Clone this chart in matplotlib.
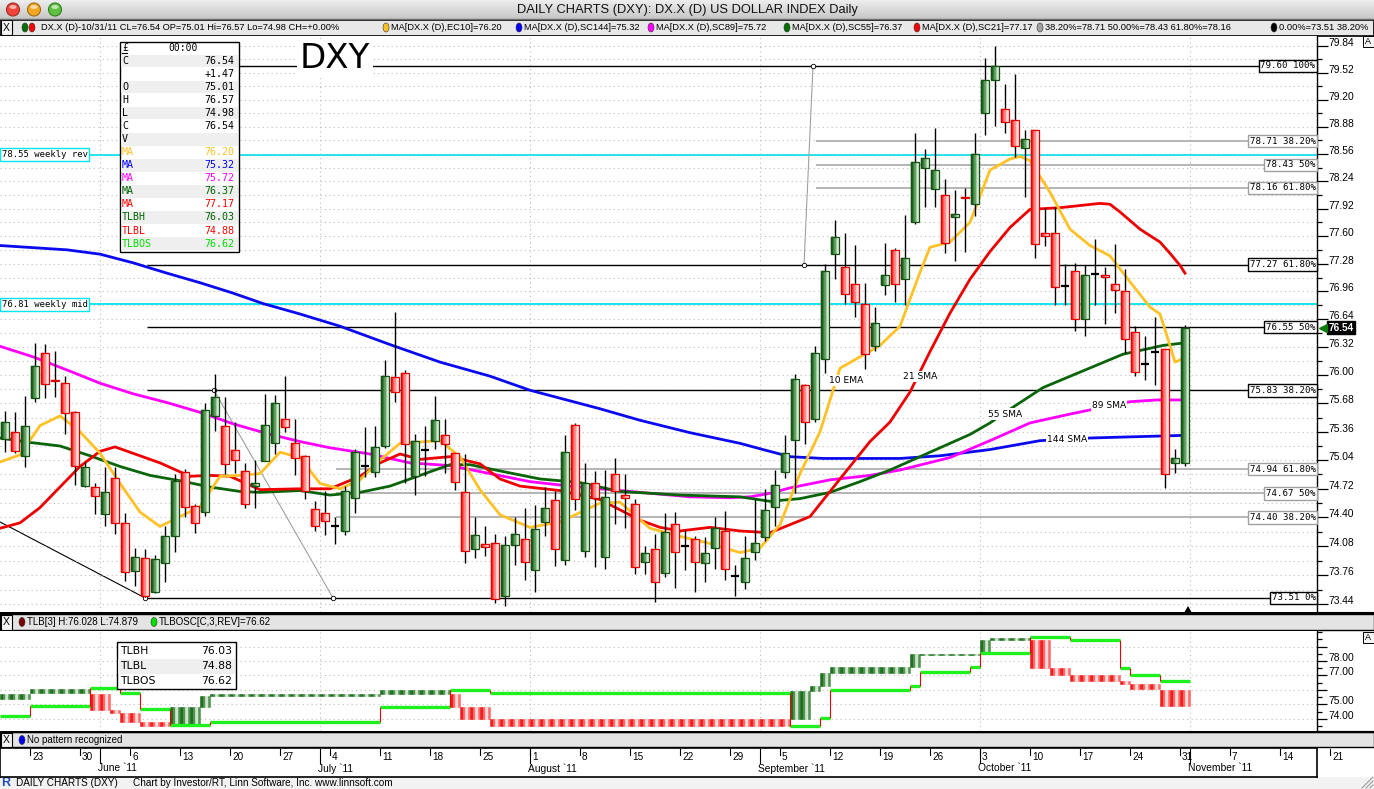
import numpy as np
import pandas as pd
import matplotlib
matplotlib.use("Agg")
import matplotlib.pyplot as plt
from matplotlib.patches import Rectangle, Ellipse, Polygon
from matplotlib.transforms import blended_transform_factory
import matplotlib.ticker as mticker

# ---------------------------------------------------------------- data
start_date = "2011-05-18"
opens = [75.28, 75.36, 75.09, 75.74, 76.25, 75.95, 75.91, 75.58, 74.75, 74.74,
         74.44, 74.84, 74.34, 73.81, 73.95, 73.58, 73.89, 74.19, 74.91, 74.53,
         74.46, 75.54, 75.43, 75.16, 74.92, 74.75, 75.03, 75.23, 75.50, 75.23,
         75.09, 74.49, 74.45, 74.30, 74.25, 74.62, 74.98, 74.91, 75.20, 75.98,
         76.03, 74.86, 75.15, 75.26, 75.32, 75.12, 74.68, 74.05, 74.10, 74.12,
         73.53, 74.09, 74.16, 73.82, 74.35, 74.59, 73.93, 75.44, 74.03, 74.78,
         73.96, 74.88, 74.65, 74.55, 73.91, 74.05, 73.78, 74.33, 74.08, 74.16,
         73.90, 74.06, 74.25, 73.75, 73.68, 74.02, 74.18, 74.52, 74.91, 75.27,
         75.89, 75.50, 76.18, 77.39, 77.24, 77.05, 76.82, 76.33, 77.03, 77.44,
         77.10, 77.76, 78.39, 78.15, 78.08, 77.82, 78.06, 77.97, 79.04, 79.43,
         79.09, 78.96, 78.63, 78.84, 77.63, 77.63, 77.02, 77.19, 76.64, 77.16,
         77.15, 77.04, 76.97, 76.49, 76.13, 76.27, 76.30, 75.01, 75.01]
highs = [75.59, 75.58, 75.76, 76.37, 76.36, 76.28, 75.99, 75.59, 75.02, 74.79,
         74.96, 74.96, 74.45, 74.06, 74.05, 73.98, 74.30, 74.88, 74.94, 74.55,
         75.68, 76.02, 75.75, 75.47, 75.01, 75.04, 75.79, 75.78, 75.99, 75.51,
         75.10, 74.58, 74.69, 74.40, 74.75, 75.17, 75.41, 75.43, 76.17, 76.72,
         76.06, 75.34, 75.43, 75.76, 75.50, 75.12, 75.11, 74.40, 74.31, 74.22,
         74.19, 74.41, 74.51, 74.54, 74.74, 74.70, 75.32, 75.46, 75.01, 74.92,
         74.93, 75.06, 74.89, 74.61, 74.08, 74.22, 74.45, 74.46, 74.26, 74.19,
         74.18, 74.41, 74.47, 73.87, 74.19, 74.61, 74.72, 74.93, 75.32, 76.02,
         75.90, 76.33, 77.28, 77.79, 77.64, 77.50, 77.06, 76.78, 77.52, 77.46,
         77.85, 78.80, 78.62, 78.86, 78.26, 78.14, 78.16, 78.81, 79.70, 79.84,
         79.39, 79.50, 78.84, 78.84, 77.93, 77.94, 77.28, 77.29, 77.26, 77.56,
         77.24, 77.51, 77.22, 76.56, 76.45, 76.67, 76.30, 75.17, 76.57]
lows = [75.13, 75.12, 74.96, 75.70, 75.74, 75.75, 75.34, 74.76, 74.74, 74.44,
        74.31, 74.22, 73.70, 73.64, 73.52, 73.56, 73.69, 74.02, 74.40, 74.23,
        74.42, 75.37, 74.89, 74.90, 74.51, 74.50, 75.03, 75.11, 75.36, 74.87,
        74.61, 74.25, 74.20, 74.11, 74.21, 74.45, 74.85, 74.85, 75.18, 75.70,
        74.78, 74.65, 74.86, 75.17, 74.90, 74.71, 73.89, 73.95, 73.97, 73.45,
        73.42, 73.87, 73.71, 73.58, 74.19, 73.86, 73.87, 74.48, 73.96, 73.85,
        73.83, 74.33, 74.28, 73.77, 73.77, 73.47, 73.74, 73.62, 73.82, 73.58,
        73.68, 73.83, 73.71, 73.53, 73.61, 73.93, 74.14, 74.30, 74.84, 74.67,
        75.22, 75.47, 76.03, 77.10, 76.81, 76.67, 76.07, 76.28, 76.92, 76.84,
        76.80, 77.74, 77.94, 77.94, 77.40, 77.31, 77.42, 77.83, 78.78, 78.89,
        78.80, 78.52, 78.06, 77.34, 77.48, 76.80, 76.80, 76.51, 76.45, 76.80,
        76.58, 76.71, 76.25, 75.99, 75.95, 75.89, 74.73, 74.90, 74.98]
closes = [75.47, 75.14, 75.43, 76.11, 75.90, 75.94, 75.57, 74.97, 74.96, 74.64,
          74.68, 74.34, 73.80, 73.96, 73.53, 73.94, 74.19, 74.81, 74.52, 74.34,
          75.61, 75.75, 75.00, 75.04, 74.55, 74.78, 75.44, 75.68, 75.41, 75.07,
          74.70, 74.31, 74.36, 74.30, 74.69, 75.13, 74.98, 75.19, 75.99, 75.81,
          75.22, 75.26, 75.15, 75.49, 75.22, 74.80, 74.03, 74.20, 74.07, 73.50,
          74.09, 74.22, 73.91, 74.27, 74.51, 74.05, 75.13, 74.61, 74.79, 74.62,
          74.63, 74.69, 74.62, 73.85, 74.01, 73.69, 74.24, 74.02, 74.08, 73.91,
          74.01, 74.28, 73.83, 73.75, 73.95, 74.12, 74.48, 74.76, 75.12, 75.96,
          75.47, 76.25, 77.19, 77.59, 76.93, 76.84, 76.24, 76.60, 77.15, 77.04,
          77.35, 78.47, 78.51, 78.37, 77.52, 77.86, 78.04, 78.56, 79.43, 79.60,
          78.93, 78.65, 78.74, 77.51, 77.60, 77.01, 77.02, 76.64, 77.15, 77.16,
          77.13, 76.98, 76.41, 76.04, 76.13, 76.27, 74.89, 75.07, 76.54]

ema10_x = [-0.5, 1.5, 3.5, 5.5, 7.5, 9.5, 11.5, 13.5, 15.5, 17.5, 19.5, 21.5, 23.5, 25.5,
           27.5, 29.5, 31.5, 33.5, 35.5, 37.5, 39.5, 43.5, 45.5, 47.5, 49.5, 52.5, 55.5,
           59.5, 61.5, 64.5, 67.5, 70.5, 73.5, 75.5, 77.5, 79.5, 81.5, 83.5, 85.5, 87.5,
           89.5, 91.5, 92.5, 94.5, 96.5, 98.5, 100.5, 101.5, 102.5, 104.5, 106.5, 108.5,
           110.5, 112.5, 114.5, 115.5, 116.5, 117, 118]
ema10_v = [75.02, 75.10, 75.43, 75.54, 75.36, 75.12, 74.78, 74.46, 74.30, 74.41, 74.52,
           74.86, 74.87, 74.89, 75.13, 75.07, 74.78, 74.72, 74.82, 75.04, 75.23, 75.26,
           75.08, 74.71, 74.43, 74.29, 74.35, 74.56, 74.57, 74.28, 74.19, 74.11, 74.01,
           74.06, 74.32, 74.89, 75.36, 76.08, 76.21, 76.34, 76.56, 77.18, 77.47, 77.53,
           77.76, 78.37, 78.50, 78.53, 78.48, 78.11, 77.68, 77.49, 77.37, 77.07, 76.78,
           76.70, 76.34, 76.15, 76.20]
sma21_x = [-0.5, 1.5, 3.5, 5.5, 7.5, 9.5, 11, 12.5, 15.5, 18.5, 20.5, 22.5, 25.5, 29.5,
           32.5, 35.5, 37.5, 39.5, 41.5, 44.5, 47.5, 49.5, 51.5, 55.5, 59.5, 63.5, 65.5,
           67.5, 70.5, 73.5, 76.5, 78.5, 80.5, 82.5, 84.5, 86.5, 88.5, 90.5, 92.5, 94.5,
           96.5, 98.5, 100.5, 102.5, 105.5, 109.5, 110.5, 111.5, 113.5, 115.5, 116.5,
           117.5, 118]
sma21_v = [74.28, 74.34, 74.51, 74.74, 74.97, 75.14, 75.19, 75.13, 75.01, 74.86, 74.87,
           74.86, 74.71, 74.72, 74.72, 74.86, 75.01, 75.11, 75.05, 75.08, 75.00, 74.83,
           74.75, 74.70, 74.60, 74.37, 74.29, 74.25, 74.29, 74.25, 74.23, 74.32, 74.41,
           74.69, 74.97, 75.25, 75.47, 75.81, 76.27, 76.71, 77.10, 77.42, 77.70, 77.91,
           77.93, 77.98, 77.97, 77.88, 77.68, 77.53, 77.40, 77.26, 77.17]
sma55_x = [-0.5, 2.5, 5.5, 8.5, 11.5, 14.5, 17.5, 20.5, 23.5, 25.5, 29.5, 32.5, 35.5,
           38.5, 41.5, 44.5, 46.5, 49.5, 53.5, 57.5, 61.5, 67.5, 73.5, 76.5, 79.5, 82.5,
           85.5, 88.5, 92.5, 96.5, 98.5, 100.7, 103.8, 107.8, 111.8, 115.8, 118]
sma55_v = [75.29, 75.24, 75.20, 75.09, 74.97, 74.87, 74.81, 74.74, 74.69, 74.68, 74.70,
           74.65, 74.68, 74.75, 74.87, 74.99, 74.99, 74.92, 74.83, 74.79, 74.69, 74.65,
           74.63, 74.58, 74.61, 74.68, 74.80, 74.93, 75.13, 75.33, 75.46, 75.63, 75.86,
           76.05, 76.24, 76.34, 76.37]
sma89_x = [-0.5, 2.8, 6.2, 9.5, 12.8, 16.2, 19.5, 22.8, 26.2, 29.5, 32.5, 36.5, 40.5,
           44.5, 48.5, 52.5, 56.5, 61.5, 68.5, 72.5, 74.5, 76.5, 78.5, 82.5, 86.5, 89.5,
           94.5, 98.5, 102.5, 106.5, 112.5, 115.2, 118]
sma89_v = [76.33, 76.21, 76.06, 75.91, 75.79, 75.69, 75.58, 75.45, 75.34, 75.25, 75.18,
           75.11, 75.01, 74.98, 74.89, 74.80, 74.75, 74.70, 74.63, 74.62, 74.63, 74.67,
           74.73, 74.82, 74.87, 74.93, 75.07, 75.26, 75.46, 75.56, 75.70, 75.72, 75.72]
sma144_x = [-0.5, 6.2, 9.5, 12.8, 16.2, 19.5, 22.8, 25.8, 29.5, 33.5, 38.5, 43.5, 48.5,
            52.5, 59.5, 63.5, 68.5, 73.5, 75.8, 78.5, 81.8, 89.5, 93.5, 98.5, 103.5,
            108.5, 118]
sma144_v = [77.49, 77.44, 77.39, 77.29, 77.17, 77.06, 76.94, 76.82, 76.70, 76.56, 76.35,
            76.15, 75.99, 75.83, 75.62, 75.49, 75.35, 75.23, 75.16, 75.08, 75.06, 75.06,
            75.09, 75.16, 75.26, 75.29, 75.32]

fib_black_levels = [79.60, 77.27, 76.55, 75.83, 73.51]
fib_black_labels = ["79.60 100%", "77.27 61.80%", "76.55 50%", "75.83 38.20%", "73.51 0%"]
fib_upper_levels = [78.71, 78.43, 78.16]
fib_upper_labels = ["78.71 38.20%", "78.43 50%", "78.16 61.80%"]
fib_lower_levels = [74.94, 74.67, 74.40]
fib_lower_labels = ["74.94 61.80%", "74.67 50%", "74.40 38.20%"]
weekly_levels = [78.55, 76.81]
weekly_labels = ["78.55 weekly rev", "76.81 weekly mid"]

ytick_major = [73.44, 73.76, 74.08, 74.40, 74.72, 75.04, 75.36, 75.68, 76.00, 76.32,
               76.64, 76.96, 77.28, 77.60, 77.92, 78.24, 78.56, 78.88, 79.20, 79.52, 79.84]
ytick_minor = [73.60, 73.92, 74.24, 74.56, 74.88, 75.20, 75.52, 75.84, 76.16, 76.48,
               76.80, 77.12, 77.44, 77.76, 78.08, 78.40, 78.72, 79.04, 79.36, 79.68]

# three-line-break bricks: first bar, end bar (exclusive), low, high, up?
tlb_start = [0, 3, 9, 11, 12, 14, 17, 20, 21, 38, 45, 46, 49, 79, 81, 82, 83, 91, 92,
             98, 99, 103, 105, 107, 112, 113, 116]
tlb_end = [3, 9, 11, 12, 14, 17, 20, 21, 38, 45, 46, 49, 79, 81, 82, 83, 91, 92, 98,
           99, 103, 105, 107, 112, 113, 116, 119]
tlb_low = [75.41, 75.79, 74.64, 74.38, 73.80, 73.53, 73.57, 74.81, 75.61, 75.75, 74.80,
           74.03, 73.50, 74.02, 75.96, 76.25, 77.19, 77.59, 78.40, 78.47, 79.43, 77.51,
           77.01, 76.64, 76.41, 76.04, 74.88]
tlb_high = [75.75, 76.09, 75.75, 74.64, 74.38, 73.82, 74.81, 75.61, 75.75, 75.99, 75.75,
            74.80, 74.03, 75.96, 76.25, 77.19, 77.59, 78.47, 78.50, 79.43, 79.60, 79.43,
            77.51, 77.01, 76.64, 76.41, 76.03]
tlb_up = [1, 1, 0, 0, 0, 0, 1, 1, 1, 1, 0, 0, 0, 1, 1, 1, 1, 1, 1, 1, 1, 0, 0, 0, 0, 0, 0]
tlbos_start = [0, 3, 9, 12, 14, 17, 21, 38, 45, 49, 79, 82, 83, 91, 92, 97, 98, 103,
               107, 112, 113, 116]
tlbos_end = [3, 9, 12, 14, 17, 21, 38, 45, 49, 79, 82, 83, 91, 92, 97, 98, 103, 107,
             112, 113, 116, 119]
tlbos_val = [74.22, 74.92, 76.14, 75.79, 74.72, 73.55, 73.82, 74.86, 75.98, 75.79,
             73.52, 74.07, 75.98, 76.28, 77.21, 77.59, 78.52, 79.64, 79.45, 77.55,
             77.03, 76.62]

# ---------------------------------------------------------------- figure
W, H = 1374, 789
PLOT_R = 1317
fig = plt.figure(figsize=(W / 100, H / 100), dpi=100)
fig.patch.set_facecolor("white")
SANS = "Liberation Sans"
MONO = "DejaVu Sans Mono"


def frect(x0, y0, x1, y1):
    return [x0 / W, 1 - y1 / H, (x1 - x0) / W, (y1 - y0) / H]


ax_bg = fig.add_axes([0, 0, 1, 1], zorder=0)
ax_bg.set_xlim(0, W)
ax_bg.set_ylim(H, 0)
ax_bg.axis("off")

ax = fig.add_axes(frect(0, 36, PLOT_R, 612), zorder=2)
ax_t = fig.add_axes(frect(0, 631, PLOT_R, 731), zorder=2)
ax_d = fig.add_axes(frect(0, 748, PLOT_R, 777), zorder=2)
ax_fg = fig.add_axes([0, 0, 1, 1], zorder=6)
ax_fg.set_xlim(0, W)
ax_fg.set_ylim(H, 0)
ax_fg.axis("off")
ax_fg.patch.set_alpha(0)

XLIM = (-0.5, 131.2)


def prect(a, x0, y0, x1, y1, **kw):
    a.add_patch(Rectangle((x0, y0), x1 - x0, y1 - y0, **kw))


# ---------------------------------------------------------------- window chrome
grad = np.linspace([0.93, 0.93, 0.93], [0.78, 0.78, 0.78], 20)[:, None, :]
ax_bg.imshow(grad, extent=[0, W, 19, 0], aspect="auto", zorder=0)
ax_bg.plot([0, W], [19, 19], color="#6d6d6d", lw=1)
for cx, fc, ec in [(13, "#f0453a", "#a02a22"), (34, "#f5a623", "#a06a10"), (55, "#5fbf3f", "#2f7f1f")]:
    ax_bg.add_patch(Ellipse((cx, 9.5), 13, 13, facecolor=fc, edgecolor=ec, lw=0.8, zorder=2))
    ax_bg.add_patch(Ellipse((cx, 7), 7, 4, facecolor="white", alpha=0.6, lw=0, zorder=3))
ax_bg.text(687, 9.5, "DAILY CHARTS (DXY): DX.X (D) US DOLLAR INDEX Daily", ha="center",
           va="center", fontsize=9.3, family=SANS, color="#111111")

# legend header bar
prect(ax_bg, 0, 19.5, W, 35.5, facecolor="#e8e8e8", edgecolor="black", lw=1.2)
prect(ax_bg, 0.5, 20, 12, 35, facecolor="#f4f4f4", edgecolor="black", lw=0.8)
ax_bg.text(6.2, 27.5, "X", ha="center", va="center", fontsize=7.5, family=SANS)


def dot(a, x, y, c, w=6, h=9):
    a.add_patch(Ellipse((x, y), w, h, facecolor=c, edgecolor="#333333", lw=0.4, zorder=3))


hdr_y = 27.5
dot(ax_bg, 25, hdr_y, "#007000")
dot(ax_bg, 32, hdr_y, "#ff0000")
hdr_items = [(41, None, "DX.X (D)-10/31/11 CL=76.54 OP=75.01 Hi=76.57 Lo=74.98 CH=+0.00%"),
             (391, "#ffc125", "MA[DX.X (D),EC10]=76.20"),
             (524, "#0000ff", "MA[DX.X (D),SC144]=75.32"),
             (656, "#ff00ff", "MA[DX.X (D),SC89]=75.72"),
             (792, "#007000", "MA[DX.X (D),SC55]=76.37"),
             (922, "#ff0000", "MA[DX.X (D),SC21]=77.17"),
             (1045, "#a0a0a0", "38.20%=78.71 50.00%=78.43 61.80%=78.16"),
             (1279, "#000000", "0.00%=73.51 38.20%")]
for x, c, s in hdr_items:
    if c is not None:
        dot(ax_bg, x - 5, hdr_y, c)
    ax_bg.text(x, hdr_y, s, ha="left", va="center", fontsize=6.7, family=SANS, color="black")

# ---------------------------------------------------------------- main price panel
ax.set_yscale("log")
ax.set_xlim(*XLIM)
ax.set_ylim(73.355, 79.958)
ax.set_facecolor("white")
for s in ["left", "top", "bottom"]:
    ax.spines[s].set_visible(False)
ax.spines["right"].set_color("black")
ax.spines["right"].set_linewidth(1.0)
ax.set_xticks([])
ax.yaxis.set_major_locator(mticker.FixedLocator(ytick_major))
ax.yaxis.set_minor_locator(mticker.FixedLocator(ytick_minor))
ax.yaxis.set_major_formatter(mticker.NullFormatter())
ax.yaxis.set_minor_formatter(mticker.NullFormatter())
ax.tick_params(axis="y", which="both", left=False, right=True, labelleft=False,
               labelright=False, direction="out", color="black", width=0.9)
ax.tick_params(axis="y", which="major", length=8.0)
ax.tick_params(axis="y", which="minor", length=3.8)
ax.grid(axis="y", which="both", color="#bdbdbd", linestyle=(0, (1, 3)), lw=0.8, zorder=0)

dates = pd.bdate_range(start_date, periods=136)
month_bounds = [i - 0.5 for i in range(1, len(dates)) if dates[i].month != dates[i - 1].month]
for b in month_bounds:
    ax.axvline(b, color="#bdbdbd", linestyle=(0, (1, 3)), lw=0.8, zorder=0)
    ax_t.axvline(b, color="#bdbdbd", linestyle=(0, (1, 3)), lw=0.8, zorder=0)

bt = blended_transform_factory(ax.transAxes, ax.transData)

# weekly levels (cyan)
for lv, lab in zip(weekly_levels, weekly_labels):
    ax.axhline(lv, color="#00e5ee", lw=1.3, zorder=1)
    ax.text(1.5 / PLOT_R, lv, lab, transform=bt, ha="left", va="center", fontsize=6.4,
            family=MONO, color="black", zorder=9,
            bbox=dict(boxstyle="square,pad=0.2", fc="white", ec="#00e5ee", lw=1.0))

# fib retracements
for lv in fib_black_levels:
    ax.hlines(lv, 14.2, XLIM[1], color="black", lw=1.0, zorder=1)
for lv in fib_upper_levels:
    ax.hlines(lv, 81.1, XLIM[1], color="#a8a8a8", lw=1.2, zorder=1)
for lv in fib_lower_levels:
    ax.hlines(lv, 33.1, XLIM[1], color="#a8a8a8", lw=1.2, zorder=1)
for lv, lab in zip(fib_black_levels, fib_black_labels):
    ax.text(1 - 1.5 / PLOT_R, lv, lab, transform=bt, ha="right", va="center", fontsize=6.6,
            family=MONO, zorder=9,
            bbox=dict(boxstyle="square,pad=0.2", fc="white", ec="black", lw=1.0))
for lv, lab in zip(fib_upper_levels + fib_lower_levels, fib_upper_labels + fib_lower_labels):
    ax.text(1 - 1.5 / PLOT_R, lv, lab, transform=bt, ha="right", va="center", fontsize=6.6,
            family=MONO, zorder=9,
            bbox=dict(boxstyle="square,pad=0.2", fc="white", ec="#a0a0a0", lw=1.0))

# fib tool anchor lines
ax.plot([-0.5, 14.0], [74.35, 73.51], color="black", lw=0.8, zorder=1)
ax.plot([20.9, 32.8], [75.83, 73.51], color="#a0a0a0", lw=0.8, zorder=1)
ax.plot([79.9, 80.8], [77.27, 79.60], color="#a0a0a0", lw=0.8, zorder=1)
for xa, ya in [(14.0, 73.51), (20.9, 75.83), (32.8, 73.51), (79.9, 77.27), (80.8, 79.60)]:
    ax.plot([xa], [ya], marker="o", ms=3.2, mfc="white", mec="black", mew=0.6, zorder=2)

# moving averages
ma_specs = [(sma144_x, sma144_v, "#0a0aee"), (sma89_x, sma89_v, "#ff00ff"),
            (sma55_x, sma55_v, "#0a640a"), (sma21_x, sma21_v, "#ee0000"),
            (ema10_x, ema10_v, "#ffc125")]
for xs, vs, c in ma_specs:
    ax.plot(xs, vs, color=c, lw=2.0, zorder=3, solid_joinstyle="round")

ma_labels = [(82.4, 75.94, "10 EMA"), (89.8, 75.99, "21 SMA"), (98.3, 75.56, "55 SMA"),
             (108.7, 75.66, "89 SMA"), (104.2, 75.27, "144 SMA")]
for xl, yl, s in ma_labels:
    ax.text(xl, yl, s, ha="left", va="center", fontsize=6.6, family="DejaVu Sans", zorder=4,
            bbox=dict(boxstyle="square,pad=0.12", fc="white", ec="none"))

# candlesticks
idx = np.arange(len(closes))
ax.vlines(idx, lows, highs, color="black", lw=1.0, zorder=5)
g_cols = ["#1b5e1b", "#2f7a2f", "#5a9a5a", "#95c295", "#d2e8d2"]
r_cols = ["#ff1f1f", "#ff4d4d", "#ff8383", "#ffb7b7", "#ffe4e4"]
BW = 0.72
for i, (o, h, l, c) in enumerate(zip(opens, highs, lows, closes)):
    if abs(c - o) < 0.004:
        ax.hlines(o, i - 0.42, i + 0.42, color="black", lw=1.6, zorder=6)
        continue
    up = c > o
    lo, hi = min(o, c), max(o, c)
    cols = g_cols if up else r_cols
    n = len(cols)
    for k, col in enumerate(cols):
        ax.add_patch(Rectangle((i - BW / 2 + k * BW / n, lo), BW / n, hi - lo,
                               facecolor=col, edgecolor=col, lw=0.3, zorder=6))
    ax.add_patch(Rectangle((i - BW / 2, lo), BW, hi - lo, facecolor="none",
                           edgecolor="#145214" if up else "#e00000", lw=0.9, zorder=6.5))

# y tick labels (underscore style)
for v in ytick_major:
    ax.text(1328 / PLOT_R, v, "%.2f" % v, transform=bt, ha="left", va="baseline",
            fontsize=7.4, family=SANS, clip_on=False)

# last price tag
ax.text(1328.5 / PLOT_R, closes[-1], "%.2f" % closes[-1], transform=bt, ha="left", va="center",
        fontsize=7.2, family=SANS, color="white", fontweight="bold", clip_on=False, zorder=10,
        bbox=dict(boxstyle="square,pad=0.15", fc="black", ec="black"))
ax.plot([1323.5 / PLOT_R], [closes[-1]], transform=bt, marker="<", ms=6, color="#0a7a0a",
        clip_on=False, zorder=10)

# DXY caption
ax_fg.text(335, 58.5, "DXY", ha="center", va="center", fontsize=24.5, family="DejaVu Sans",
           color="black", bbox=dict(boxstyle="square,pad=0.08", fc="white", ec="none"))

# OHLC data window
prect(ax_fg, 119.5, 41.5, 238.5, 252, facecolor="white", edgecolor="black", lw=1.0)
ax_fg.text(122, 48, "£", ha="left", va="center", fontsize=7, family=MONO)
ax_fg.plot([122, 127], [53, 53], color="black", lw=0.8)
ax_fg.text(183, 48, "00:00", ha="center", va="center", fontsize=7, family=MONO)
info_rows = [("C", "76.54", "black"), ("", "+1.47", "black"), ("O", "75.01", "black"),
             ("H", "76.57", "black"), ("L", "74.98", "black"), ("C", "76.54", "black"),
             ("V", "", "black"), ("MA", "76.20", "#ffc125"), ("MA", "75.32", "#0000ff"),
             ("MA", "75.72", "#ff00ff"), ("MA", "76.37", "#006400"), ("MA", "77.17", "#ff0000"),
             ("TLBH", "76.03", "#006400"), ("TLBL", "74.88", "#ff0000"),
             ("TLBOS", "76.62", "#00dd00")]
for k, (lab, val, col) in enumerate(info_rows):
    yc = 61 + 13.04 * k
    if k % 2 == 0:
        prect(ax_fg, 120.5, yc - 6.3, 237.5, yc + 6.3, facecolor="#efefef", edgecolor="none")
    ax_fg.text(122, yc, lab, ha="left", va="center", fontsize=7.2, family=MONO, color=col)
    ax_fg.text(234.5, yc, val, ha="right", va="center", fontsize=7.2, family=MONO, color=col)

# "A" buttons
for yy in (35.5, 632):
    prect(ax_fg, 1362.5, yy, 1373.5, yy + 11, facecolor="#f4f4f4", edgecolor="black", lw=0.7)
    ax_fg.text(1368, yy + 5.5, "A", ha="center", va="center", fontsize=6.5, family=SANS)

# ---------------------------------------------------------------- TLB panel header
ax_bg.plot([0, W], [612.5, 612.5], color="black", lw=1.5)
prect(ax_bg, 0, 614, W, 630, facecolor="#e4e4e4", edgecolor="black", lw=1.0)
prect(ax_bg, 0.5, 614.5, 12, 629.5, facecolor="#f4f4f4", edgecolor="black", lw=0.8)
ax_bg.text(6.2, 622, "X", ha="center", va="center", fontsize=7.5, family=SANS)
dot(ax_bg, 22, 622, "#7a0000")
ax_bg.text(27, 622, "TLB[3] H:76.028 L:74.879", ha="left", va="center", fontsize=7.0, family=SANS)
dot(ax_bg, 154, 622, "#00e000")
ax_bg.text(159, 622, "TLBOSC[C,3,REV]=76.62", ha="left", va="center", fontsize=7.0, family=SANS)
ax_fg.add_patch(Polygon([[1184.5, 612], [1191.5, 612], [1188, 606]], closed=True,
                        facecolor="black", edgecolor="none"))

# ---------------------------------------------------------------- TLB panel
ax_t.set_xlim(*XLIM)
ax_t.set_ylim(73.17, 80.07)
ax_t.set_facecolor("white")
for s in ["left", "top", "bottom"]:
    ax_t.spines[s].set_visible(False)
ax_t.spines["right"].set_linewidth(1.0)
ax_t.set_xticks([])
ax_t.yaxis.set_major_locator(mticker.FixedLocator([74, 75, 76, 77, 78, 79]))
ax_t.yaxis.set_minor_locator(mticker.FixedLocator(list(np.arange(73.5, 80.01, 0.5))))
ax_t.yaxis.set_major_formatter(mticker.NullFormatter())
ax_t.yaxis.set_minor_formatter(mticker.NullFormatter())
ax_t.tick_params(axis="y", which="both", left=False, right=True, direction="out", width=0.9)
ax_t.tick_params(axis="y", which="major", length=7.5)
ax_t.tick_params(axis="y", which="minor", length=3.5)
ax_t.grid(axis="y", which="major", color="#bdbdbd", linestyle=(0, (1, 3)), lw=0.8, zorder=0)
btt = blended_transform_factory(ax_t.transAxes, ax_t.transData)
for v in [78, 77, 75, 74]:
    ax_t.text(1328 / PLOT_R, v, "%.2f" % v, transform=btt, ha="left", va="baseline",
              fontsize=7.4, family=SANS, clip_on=False)

tg = ["#1f6f1f", "#4f934f", "#cfe5cf", "#4f934f"]
tr = ["#f01f1f", "#ff6a6a", "#ffdada", "#ff6a6a"]
for s0, e0, lo, hi, up in zip(tlb_start, tlb_end, tlb_low, tlb_high, tlb_up):
    cols = tg if up else tr
    for i in range(s0, e0):
        for k, col in enumerate(cols):
            ax_t.add_patch(Rectangle((i - 0.5 + k * 0.25, lo), 0.25, hi - lo, facecolor=col,
                                     edgecolor=col, lw=0.4, zorder=3))
for k, (s0, e0, v) in enumerate(zip(tlbos_start, tlbos_end, tlbos_val)):
    ax_t.hlines(v, s0 - 0.5, e0 - 0.5, color="#1ff01f", lw=2.4, zorder=4)
    if k > 0:
        ax_t.vlines(s0 - 0.5, min(v, tlbos_val[k - 1]), max(v, tlbos_val[k - 1]),
                    color="#ee0000", lw=0.8, zorder=4)

# TLB data window
prect(ax_fg, 117, 642, 236, 689, facecolor="white", edgecolor="black", lw=1.0)
prect(ax_fg, 118, 659, 235, 674, facecolor="#efefef", edgecolor="none")
for k, (lab, val) in enumerate([("TLBH", "76.03"), ("TLBL", "74.88"), ("TLBOS", "76.62")]):
    yc = 651 + 15.2 * k
    ax_fg.text(120, yc, lab, ha="left", va="center", fontsize=7.8, family="DejaVu Sans")
    ax_fg.text(232, yc, val, ha="right", va="center", fontsize=7.8, family="DejaVu Sans")

# ---------------------------------------------------------------- pattern bar
ax_bg.plot([0, W], [731.5, 731.5], color="black", lw=1.6)
prect(ax_bg, 0, 732, W, 747, facecolor="#e4e4e4", edgecolor="black", lw=1.0)
prect(ax_bg, 0.5, 732.5, 12, 746.5, facecolor="#f4f4f4", edgecolor="black", lw=0.8)
ax_bg.text(6.2, 740, "X", ha="center", va="center", fontsize=7.5, family=SANS)
dot(ax_bg, 22, 740, "#0000ee")
ax_bg.text(27, 740, "No pattern recognized", ha="left", va="center", fontsize=7.0, family=SANS)

# ---------------------------------------------------------------- date axis
ax_d.set_xlim(*XLIM)
ax_d.set_ylim(1, 0)
ax_d.set_xticks([])
ax_d.set_yticks([])
for s in ax_d.spines.values():
    s.set_linewidth(1.2)
mondays = [i for i, d in enumerate(dates) if d.weekday() == 0]
for i in mondays:
    ax_d.plot([i - 0.5, i - 0.5], [0.02, 0.25], color="black", lw=0.8, clip_on=False)
    ax_d.text(i - 0.3, 0.32, str(dates[i].day), ha="left", va="center", fontsize=7.2,
              family=SANS, clip_on=False)
for b in month_bounds:
    j = int(b + 0.5)
    ax_d.plot([b, b], [0.02, 0.5], color="black", lw=0.8)
    ax_d.text(b - 0.2, 0.7, dates[j].strftime("%B") + " `11", ha="left", va="center",
              fontsize=7.4, family=SANS)

# ---------------------------------------------------------------- footer
prect(ax_bg, 0, 777, W, H, facecolor="#f2f2f2", edgecolor="none")
ax_bg.text(1, 783, "R", ha="left", va="center", fontsize=9, fontweight="bold",
           family=SANS, color="#2050c0")
ax_bg.text(16, 783, "DAILY CHARTS (DXY)", ha="left", va="center", fontsize=7.2, family=SANS)
ax_bg.text(133, 783, "Chart by Investor/RT, Linn Software, Inc. www.linnsoft.com", ha="left",
           va="center", fontsize=7.2, family=SANS)
for d in (4, 8, 12):
    ax_bg.plot([W - d, W - 1], [H - 1, H - d], color="#909090", lw=0.7)

fig.savefig("out.png", dpi=100)
